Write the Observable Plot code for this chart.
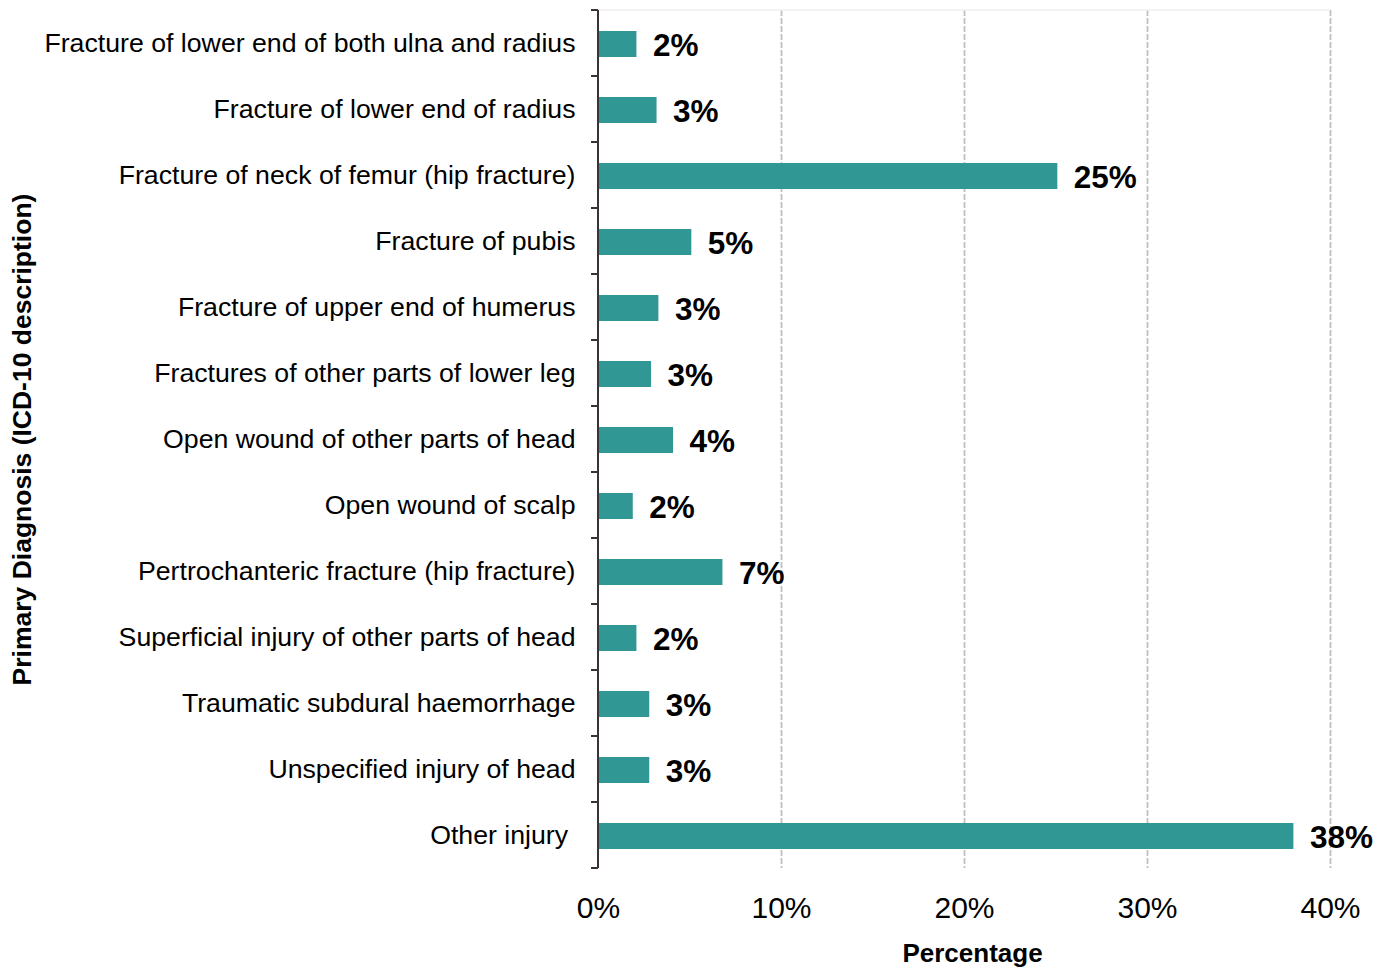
<!DOCTYPE html>
<html><head><meta charset="utf-8">
<script src="https://cdn.jsdelivr.net/npm/d3@7"></script>
<script src="https://cdn.jsdelivr.net/npm/@observablehq/plot@0.6"></script>
<style>body{margin:0;background:#fff;font-family:"Liberation Sans",Arial,sans-serif}</style>
</head><body><div id="chart"></div>
<script>
const categories = [
  "Fracture of lower end of both ulna and radius",
  "Fracture of lower end of radius",
  "Fracture of neck of femur (hip fracture)",
  "Fracture of pubis",
  "Fracture of upper end of humerus",
  "Fractures of other parts of lower leg",
  "Open wound of other parts of head",
  "Open wound of scalp",
  "Pertrochanteric fracture (hip fracture)",
  "Superficial injury of other parts of head",
  "Traumatic subdural haemorrhage",
  "Unspecified injury of head",
  "Other injury\u00a0"
];
const values = [2.1, 3.2, 25.1, 5.1, 3.3, 2.9, 4.1, 1.9, 6.8, 2.1, 2.8, 2.8, 38.0];
const xTicks = [0, 10, 20, 30, 40];
const xTitle = "Percentage";
const yTitle = "Primary Diagnosis (ICD-10 description)";

const data = categories.map((c, i) => ({category: c, value: values[i]}));

function axisFrame(index, scales, values, dims) {
  const {x, y} = scales;
  const top = dims.marginTop, bottom = dims.height - dims.marginBottom;
  const step = y(categories[1]) - y(categories[0]);
  const x0 = x(0);
  const g = d3.create("svg:g");
  g.append("line").attr("x1", x0).attr("x2", x(40)).attr("y1", top).attr("y2", top)
    .attr("stroke", "#efefef").attr("stroke-width", 1.5);
  g.append("line").attr("x1", x0).attr("x2", x0).attr("y1", top).attr("y2", bottom)
    .attr("stroke", "#3b3333").attr("stroke-width", 2);
  for (let i = 0; i <= categories.length; i++) {
    const yy = top + i * step;
    g.append("line").attr("x1", x0 - 7).attr("x2", x0).attr("y1", yy).attr("y2", yy)
      .attr("stroke", "#3b3333").attr("stroke-width", 2);
  }
  return g.node();
}

const plot = Plot.plot({
  width: 1391, height: 969,
  marginTop: 10, marginBottom: 101, marginLeft: 598, marginRight: 61,
  style: {fontFamily: '"Liberation Sans", Arial, sans-serif', background: "#fff", color: "#000"},
  x: {domain: [0, 40], ticks: xTicks},
  y: {domain: categories, paddingInner: 0.6, paddingOuter: 0.3},
  marks: [
    Plot.ruleX(xTicks.slice(1), {stroke: "#c0c0c0", strokeWidth: 1.8, strokeDasharray: "6,2"}),
    Plot.barX(data, {y: "category", x: "value", fill: "#319795", dy: 1}),
    Plot.text(data, {y: "category", x: "value", text: d => Math.round(d.value) + "%", dx: 16, dy: 2,
      textAnchor: "start", fontSize: 31.5, fontWeight: "bold", fill: "#000"}),
    Plot.axisX({ticks: xTicks, tickFormat: d => d + "%", tickSize: 0, tickPadding: 28, fontSize: 30, label: null}),
    Plot.axisY({tickSize: 0, tickPadding: 23, fontSize: 26.7, label: null}),
    axisFrame,
    Plot.text([xTitle], {text: d => d, frameAnchor: "bottom", dy: 85, dx: 8, fontSize: 26,
      fontWeight: "bold", textAnchor: "middle", lineAnchor: "middle", fill: "#000"}),
    Plot.text([yTitle], {text: d => d, frameAnchor: "left", dx: -576, rotate: -90, fontSize: 26.5,
      fontWeight: "bold", textAnchor: "middle", lineAnchor: "middle", fill: "#000"})
  ]
});
document.getElementById("chart").appendChild(plot);
</script>
</body></html>
